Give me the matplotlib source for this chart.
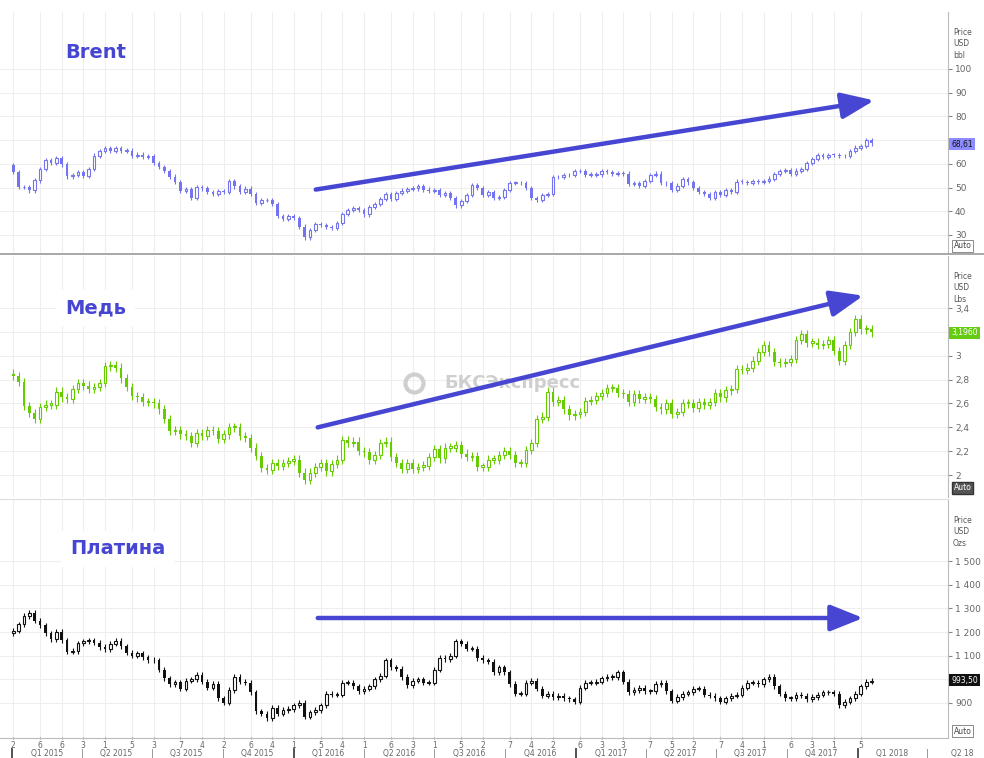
import numpy as np
import pandas as pd
import matplotlib
matplotlib.use('Agg')
import matplotlib.pyplot as plt
import matplotlib.dates as mdates
from matplotlib.lines import Line2D
from matplotlib.patches import FancyArrowPatch

# weekly closes, first week ends 2015-01-02
start = '2015-01-02'

brent_open0 = 59.45
brent_close = [
    # 2015
    56.42, 50.11, 50.17, 48.79, 52.99, 57.80, 61.52, 60.22, 62.58, 59.73, 54.67, 55.32, 56.41,
    54.95, 57.87, 63.45, 65.28, 66.46, 65.39, 66.81, 65.37, 65.56, 63.31, 63.87, 63.02, 63.26,
    60.32, 58.73, 57.10, 54.62, 52.21, 48.61, 49.19, 45.46, 50.05, 49.61, 48.14, 47.47, 48.60,
    48.13, 52.65, 50.46, 47.99, 49.56, 47.42, 43.61, 44.66, 44.86, 43.00, 37.93, 36.88, 37.89,
    # 2016
    37.28, 33.55, 28.94, 32.18, 34.74, 34.06, 33.36, 33.01, 35.10, 38.72, 40.39, 41.20, 40.44,
    38.67, 41.94, 43.10, 45.11, 47.37, 45.37, 47.83, 48.72, 49.32, 49.64, 50.54, 49.17, 48.41,
    48.99, 46.76, 47.61, 45.69, 42.46, 44.27, 46.97, 50.88, 49.92, 46.83, 48.01, 45.77, 45.89,
    49.06, 51.93, 51.95, 51.78, 49.71, 45.58, 44.75, 46.86, 47.24, 54.46, 54.33, 55.21, 55.16, 56.82,
    # 2017
    57.10, 55.45, 55.49, 55.52, 56.81, 56.70, 55.81, 55.99, 55.90, 51.37, 51.76, 50.80, 52.83,
    55.24, 55.89, 51.96, 51.73, 49.10, 50.84, 53.61, 52.15, 49.95, 48.15, 47.37, 45.54, 47.92,
    46.71, 48.91, 48.06, 52.52, 52.42, 52.10, 52.72, 52.41, 52.75, 53.78, 55.62, 56.86, 57.54,
    55.62, 57.17, 57.75, 60.44, 62.07, 63.52, 62.72, 63.86, 63.73, 63.40, 63.23, 65.25, 66.87,
    # 2018
    67.62, 69.87, 68.61,
]

copper_open0 = 2.85
copper_close = [
    # 2015
    2.83, 2.78, 2.58, 2.52, 2.47, 2.57, 2.59, 2.59, 2.70, 2.65, 2.64, 2.72, 2.77,
    2.75, 2.72, 2.74, 2.77, 2.91, 2.92, 2.90, 2.81, 2.74, 2.66, 2.65, 2.61, 2.61,
    2.60, 2.55, 2.47, 2.37, 2.38, 2.34, 2.33, 2.27, 2.35, 2.33, 2.38, 2.37, 2.30,
    2.34, 2.40, 2.40, 2.33, 2.31, 2.23, 2.16, 2.06, 2.04, 2.10, 2.08, 2.10, 2.12,
    # 2016
    2.13, 2.02, 1.96, 2.02, 2.07, 2.10, 2.03, 2.09, 2.13, 2.29, 2.27, 2.28, 2.20,
    2.19, 2.13, 2.17, 2.27, 2.28, 2.15, 2.10, 2.05, 2.10, 2.05, 2.07, 2.08, 2.15,
    2.22, 2.14, 2.23, 2.23, 2.25, 2.18, 2.15, 2.16, 2.07, 2.07, 2.13, 2.13, 2.17,
    2.20, 2.17, 2.10, 2.10, 2.21, 2.27, 2.47, 2.49, 2.70, 2.61, 2.63, 2.55, 2.50, 2.51,
    # 2017
    2.53, 2.62, 2.63, 2.66, 2.69, 2.73, 2.73, 2.69, 2.68, 2.61, 2.68, 2.64, 2.65,
    2.64, 2.57, 2.55, 2.60, 2.51, 2.53, 2.60, 2.60, 2.56, 2.61, 2.59, 2.61, 2.69,
    2.65, 2.71, 2.72, 2.89, 2.88, 2.90, 2.96, 3.03, 3.09, 3.03, 2.95, 2.94, 2.95,
    2.97, 3.13, 3.18, 3.11, 3.11, 3.09, 3.10, 3.13, 3.04, 2.96, 3.09, 3.20, 3.31,
    # 2018
    3.22, 3.22, 3.196,
]

platinum_open0 = 1195
platinum_close = [
    # 2015
    1205, 1233, 1268, 1280, 1247, 1228, 1195, 1170, 1200, 1165, 1116, 1120, 1152,
    1160, 1165, 1155, 1137, 1128, 1150, 1163, 1140, 1112, 1100, 1110, 1093, 1082,
    1080, 1040, 1005, 980, 987, 960, 995, 1000, 1020, 990, 965, 980, 920,
    902, 955, 1010, 990, 985, 945, 865, 855, 835, 880, 855, 870, 875,
    # 2016
    890, 900, 842, 860, 870, 890, 940, 935, 935, 985, 985, 970, 950,
    960, 970, 1000, 1015, 1080, 1050, 1045, 1010, 975, 995, 1000, 985, 985,
    1040, 1090, 1085, 1100, 1160, 1150, 1130, 1130, 1090, 1080, 1075, 1030, 1050,
    1030, 980, 940, 940, 985, 995, 960, 930, 940, 925, 930, 920, 915, 905,
    # 2017
    965, 985, 985, 990, 1005, 1010, 1010, 1030, 990, 945, 955, 965, 950,
    950, 980, 985, 950, 910, 925, 940, 945, 960, 960, 935, 930, 920,
    905, 920, 930, 935, 965, 985, 985, 980, 1000, 1010, 970, 940, 920,
    920, 935, 930, 915, 925, 935, 945, 945, 940, 890, 905, 920, 940,
    # 2018
    970, 990, 993.5,
]

# axis ticks; the level hidden behind the price tag gets no label
brent_ticks = [30, 40, 50, 60, 70, 80, 90, 100]
brent_hidden = 70
copper_ticks = [2.0, 2.2, 2.4, 2.6, 2.8, 3.0, 3.2, 3.4]
copper_hidden = 3.2
platinum_ticks = [900, 1000, 1100, 1200, 1300, 1400, 1500]
platinum_hidden = 1000
quarter_labels = ['Q1 2015', 'Q2 2015', 'Q3 2015', 'Q4 2015', 'Q1 2016', 'Q2 2016', 'Q3 2016',
                  'Q4 2016', 'Q1 2017', 'Q2 2017', 'Q3 2017', 'Q4 2017', 'Q1 2018', 'Q2 18']

W, H = 984, 758
def fx(px):
    return px / W
def fy(py):
    return 1 - py / H

ARROW = '#4646d2'
xlim = (pd.Timestamp('2014-12-16'), pd.Timestamp('2018-04-28'))


def draw_candles(ax, dates, open0, closes, color, wick):
    x = mdates.date2num(dates)
    c = np.asarray(closes, dtype=float)
    o = np.concatenate([[open0], c[:-1]])
    lo, hi = np.minimum(o, c), np.maximum(o, c)
    up = c >= o
    ax.vlines(x, lo - wick, hi + wick, color=color, lw=0.8, zorder=2)
    h = np.maximum(hi - lo, wick * 0.3)
    ax.bar(x[up], h[up], bottom=lo[up], width=3.6, facecolor='white',
           edgecolor=color, linewidth=0.8, zorder=3)
    ax.bar(x[~up], h[~up], bottom=lo[~up], width=3.6, color=color,
           linewidth=0, zorder=3)


fig = plt.figure(figsize=(9.84, 7.58), dpi=100)

panels = [
    dict(closes=brent_close, open0=brent_open0, color='#7474f0', wick=0.9,
         top=12, bot=253, ylim=(22.4, 124.0), ticks=brent_ticks, hidden=brent_hidden,
         fmt=lambda v: f'{v:g}', unit='Price\nUSD\nbbl', tag=lambda v: f'{v:.2f}'.replace('.', ','),
         tag_fc='#8c8cff', tag_tc='#111', tag_y=144, auto_dark=False,
         title='Brent', title_xy=(65, 53), title_box=False),
    dict(closes=copper_close, open0=copper_open0, color='#66cc00', wick=0.035,
         top=256, bot=497, ylim=(1.816, 3.836), ticks=copper_ticks, hidden=copper_hidden,
         fmt=lambda v: f'{v:g}'.replace('.', ','), unit='Price\nUSD\nLbs',
         tag=lambda v: f'{v:.4f}'.replace('.', ','),
         tag_fc='#66cc11', tag_tc='white', tag_y=333, auto_dark=True,
         title='Медь', title_xy=(65, 308), title_box=True),
    dict(closes=platinum_close, open0=platinum_open0, color='#111111', wick=11,
         top=500, bot=738, ylim=(752, 1758), ticks=platinum_ticks, hidden=platinum_hidden,
         fmt=lambda v: f'{int(v):,}'.replace(',', ' '), unit='Price\nUSD\nOzs',
         tag=lambda v: f'{v:.2f}'.replace('.', ','),
         tag_fc='#111111', tag_tc='white', tag_y=680, auto_dark=False,
         title='Платина', title_xy=(70, 549), title_box=True),
]

axes = []
for i, p in enumerate(panels):
    ax = fig.add_axes([0.0, fy(p['bot']), fx(948), (p['bot'] - p['top']) / H])
    ax.set_facecolor('white')
    dates = pd.date_range(start, periods=len(p['closes']), freq='W-FRI')
    draw_candles(ax, dates, p['open0'], p['closes'], p['color'], p['wick'])

    # month ticks at first weekly candle of each month
    s = pd.Series(dates, index=dates)
    firsts = s.groupby([dates.year, dates.month]).first().values
    ax.set_xticks(mdates.date2num(pd.DatetimeIndex(firsts)))
    ax.set_xlim(*xlim)
    ax.set_ylim(*p['ylim'])
    ax.set_yticks(p['ticks'])
    ax.set_yticklabels(['' if abs(v - p['hidden']) < 1e-9 else p['fmt'](v) for v in p['ticks']])
    ax.yaxis.tick_right()
    ax.tick_params(axis='y', labelsize=6.5, labelcolor='#666', color='#888', length=3, pad=2)
    ax.grid(True, color='#eeeeee', lw=0.8, zorder=0)
    for side in ('left', 'top'):
        ax.spines[side].set_visible(False)
    ax.spines['right'].set_color('#bbbbbb')
    if i < 2:
        ax.spines['bottom'].set_visible(False)
        ax.tick_params(axis='x', length=0, labelbottom=False)
    else:
        ax.spines['bottom'].set_color('#bbbbbb')
        ax.set_xticklabels([str(pd.Timestamp(d).day) for d in firsts])
        ax.tick_params(axis='x', labelsize=5.5, labelcolor='#666', color='#888',
                       length=2, pad=1, direction='inout')
    axes.append(ax)

    # right strip decorations
    fig.text(fx(953), fy(p['top'] + 16), p['unit'], fontsize=5.5, color='#555',
             va='top', ha='left', linespacing=1.35)
    last = p['closes'][-1]
    fig.text(fx(951), fy(p['tag_y']), p['tag'](last), fontsize=5.5, color=p['tag_tc'],
             va='center', ha='left',
             bbox=dict(boxstyle='square,pad=0.25', fc=p['tag_fc'], ec='none'))
    if p['auto_dark']:
        fig.text(fx(954), fy(p['bot'] - 9), 'Auto', fontsize=5.5, color='white',
                 va='center', ha='left',
                 bbox=dict(boxstyle='square,pad=0.2', fc='#555555', ec='#333'))
    else:
        fig.text(fx(954), fy(p['bot'] - 7), 'Auto', fontsize=5.5, color='#444',
                 va='center', ha='left',
                 bbox=dict(boxstyle='square,pad=0.2', fc='white', ec='#777', lw=0.6))

    # panel caption
    tx, ty = p['title_xy']
    kw = dict(fontsize=14, fontweight='bold', color=ARROW, va='center', ha='left')
    if p['title_box']:
        kw['bbox'] = dict(boxstyle='square,pad=0.45', fc='white', ec='none')
    fig.text(fx(tx), fy(ty), p['title'], zorder=5, **kw)

ax3 = axes[2]
# quarter labels under the month ticks
qstarts = pd.date_range('2015-01-01', '2018-04-01', freq='QS')
trans = ax3.get_xaxis_transform()
for k, q0 in enumerate(qstarts):
    bold = q0.month == 1
    ax3.plot([mdates.date2num(q0)] * 2, [-0.045, -0.085], color='#444' if bold else '#999',
             lw=1.3 if bold else 0.7, transform=trans, clip_on=False)
    if k < len(quarter_labels):
        mid = q0 + pd.Timedelta(days=45)
        ax3.text(mdates.date2num(mid), -0.066, quarter_labels[k], transform=trans,
                 fontsize=5.5, color='#666', ha='center', va='center', clip_on=False)

# separators
fig.add_artist(Line2D([0, 1], [fy(254), fy(254)], color='#9a9a9a', lw=1.2,
                      transform=fig.transFigure))
fig.add_artist(Line2D([0, fx(948)], [fy(498.5), fy(498.5)], color='#dddddd', lw=0.8,
                      transform=fig.transFigure))

# watermark
fig.text(fx(512), fy(383), 'БКСЭкспресс', fontsize=13, fontweight='bold',
         color='#cfcfcf', ha='center', va='center')
fig.add_artist(Line2D([fx(414)], [fy(383)], marker='o', ms=13, mfc='none', mec='#cfcfcf',
                      mew=3, transform=fig.transFigure))

# trend arrows
for (x0, y0), (x1, y1) in [((313, 190), (877, 100)), ((315, 428), (866, 295)),
                           ((315, 618), (866, 618))]:
    fig.add_artist(FancyArrowPatch((fx(x0), fy(y0)), (fx(x1), fy(y1)),
                                   transform=fig.transFigure,
                                   arrowstyle='-|>,head_length=1.0,head_width=0.4',
                                   mutation_scale=20, lw=3.2, color=ARROW, zorder=6))

fig.savefig('out.png', dpi=100, facecolor='white')
